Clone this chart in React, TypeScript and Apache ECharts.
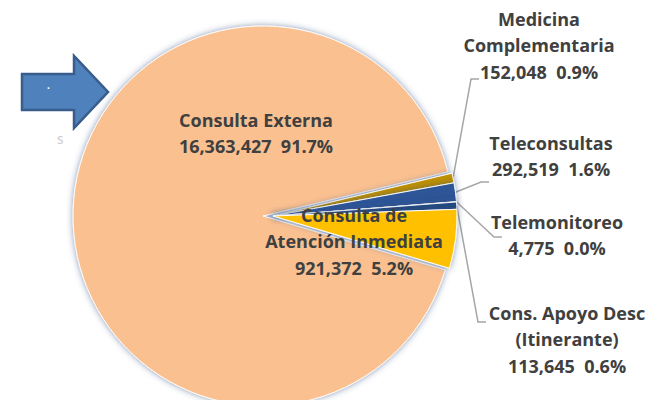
import React, { useEffect, useRef } from "react";
import * as echarts from "echarts";

const categories = [
  "Consulta Externa",
  "Medicina\nComplementaria",
  "Teleconsultas",
  "Telemonitoreo",
  "Cons. Apoyo Desc\n(Itinerante)",
  "Consulta de\nAtención Inmediata",
];
const values = [16363427, 152048, 292519, 4775, 113645, 921372];
const colors = ["#FAC090", "#BF9000", "#2F5597", "#1F3E70", "#24487F", "#FFC000"];
const insideLabels = [true, false, false, false, false, true];

// label placement (style): [x, y] of label centre, and leader anchor [x, y]
const labelPos: number[][] = [
  [248, 125],
  [531, 37],
  [543, 148],
  [549, 227],
  [559, 331],
  [346, 233],
];
const anchorPos: (number[] | null)[] = [
  null,
  [471, 71],
  [481, 174],
  [494, 229],
  [478, 314],
  null,
];

const FONT = "Open Sans";

export default function App() {
  const ref = useRef<HTMLDivElement>(null);
  useEffect(() => {
    if (!ref.current) return;
    const chart = echarts.init(ref.current, null, { renderer: "svg" });
    const fmt = (v: number) => v.toLocaleString("en-US");
    const hidden = {
      color: "rgba(0,0,0,0)",
      borderWidth: 0,
      shadowBlur: 0,
      shadowColor: "rgba(0,0,0,0)",
    };
    // series for the small slices (+ all labels); big slice drawn by second series
    const dataSmall = categories.map((name, i) => ({
      name,
      value: values[i],
      itemStyle: i === 0 ? hidden : { color: colors[i] },
      labelLine: { show: !insideLabels[i] },
    }));
    const dataBig = categories.map((name, i) => ({
      name,
      value: values[i],
      itemStyle: i === 0 ? { color: colors[i] } : hidden,
    }));
    const common = {
      type: "pie",
      startAngle: 343.5,
      clockwise: true,
      percentPrecision: 1,
      avoidLabelOverlap: false,
      emphasis: { disabled: true },
      itemStyle: {
        borderColor: "rgba(255,255,255,0.95)",
        borderWidth: 1,
        shadowBlur: 6,
        shadowColor: "rgba(50,80,130,0.6)",
      },
    };
    chart.setOption({
      animation: false,
      graphic: [
        {
          type: "polygon",
          shape: {
            points: [
              [14, 66],
              [66, 66],
              [66, 48],
              [100, 84],
              [66, 120],
              [66, 102],
              [14, 102],
            ],
          },
          style: { fill: "#4F81BD", stroke: "#385D8A", lineWidth: 2.5 },
        },
        {
          type: "text",
          x: 39,
          y: 70,
          style: { text: ".", fill: "#ffffff", font: "bold 12px Lato" },
        },
        {
          type: "text",
          x: 49,
          y: 122,
          style: { text: "s", fill: "#cccccc", font: "15px Lato" },
        },
      ],
      series: [
        {
          ...common,
          center: [255, 208],
          radius: [0, 190],
          label: { show: false },
          labelLine: { show: false },
          data: dataBig,
        },
        {
          ...common,
          center: [265, 208],
          radius: [0, 184],
          label: {
            show: true,
            position: "outside",
            formatter: (p: any) =>
              `${p.name}\n${fmt(p.value)}  ${p.percent.toFixed(1)}%`,
            fontFamily: FONT,
            fontWeight: "bold",
            fontSize: 18,
            lineHeight: 26.5,
            color: "#404040",
            align: "center",
          },
          labelLine: {
            lineStyle: { color: "#A6A6A6", width: 1.5 },
            length: 10,
            length2: 10,
          },
          labelLayout: (params: any) => {
            const i = params.dataIndex;
            const res: any = {
              x: labelPos[i][0],
              y: labelPos[i][1],
              align: "center",
              verticalAlign: "middle",
            };
            const a = anchorPos[i];
            if (a && params.labelLinePoints) {
              const p0 = params.labelLinePoints[0];
              res.labelLinePoints = [p0, [a[0] - 8, a[1]], a];
            }
            return res;
          },
          data: dataSmall,
        },
      ],
    });
    return () => chart.dispose();
  }, []);
  return <div ref={ref} style={{ width: 665, height: 400 }} />;
}
